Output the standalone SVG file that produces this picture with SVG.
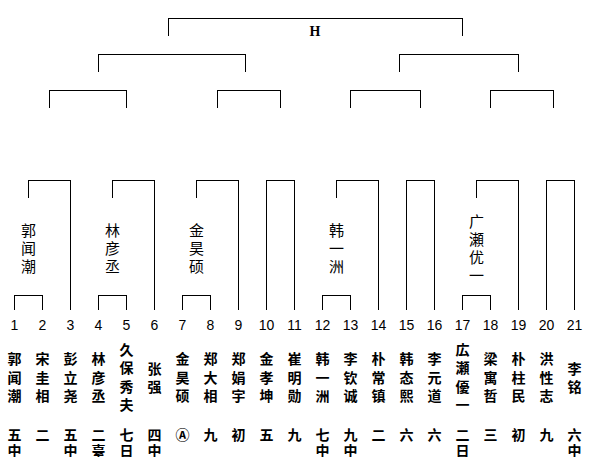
<svg xmlns="http://www.w3.org/2000/svg" width="589" height="457" viewBox="0 0 589 457">
<style>
.ln{fill:none;stroke:#000;stroke-width:1;shape-rendering:crispEdges}
.num{font-family:"Liberation Sans","DejaVu Sans",sans-serif;font-size:14px;fill:#000;text-anchor:middle}
.lab{font-family:"Noto Sans CJK SC","Noto Sans CJK JP",sans-serif;font-size:15px;fill:#000;text-anchor:middle;dominant-baseline:central}
.nm{font-family:"Noto Sans CJK SC","Noto Sans CJK JP",sans-serif;font-size:14px;font-weight:bold;fill:#000;text-anchor:middle;dominant-baseline:central}
.jp{font-family:"Noto Sans CJK JP","Noto Sans CJK SC",sans-serif}
.h{font-family:"Liberation Serif",serif;font-size:14px;font-weight:bold;fill:#000;text-anchor:middle}
</style>
<rect width="589" height="457" fill="#fff"/>
<g id="connectors">
<path class="ln" d="M168.5,36 V18.5 H462.5 V36"/>
<path class="ln" d="M98.5,72 V54.5 H245.5 V72"/>
<path class="ln" d="M399.5,72 V54.5 H518.5 V72"/>
<path class="ln" d="M49.5,108 V90.5 H126.5 V108"/>
<path class="ln" d="M217.5,108 V90.5 H280.5 V108"/>
<path class="ln" d="M350.5,108 V90.5 H420.5 V108"/>
<path class="ln" d="M490.5,108 V90.5 H553.5 V108"/>
<path class="ln" d="M28.5,198 V180.5 H70.5 V310"/>
<path class="ln" d="M112.5,198 V180.5 H154.5 V310"/>
<path class="ln" d="M196.5,198 V180.5 H238.5 V310"/>
<path class="ln" d="M266.5,310 V180.5 H294.5 V310"/>
<path class="ln" d="M336.5,198 V180.5 H378.5 V310"/>
<path class="ln" d="M406.5,310 V180.5 H434.5 V310"/>
<path class="ln" d="M476.5,198 V180.5 H518.5 V310"/>
<path class="ln" d="M546.5,310 V180.5 H574.5 V310"/>
<path class="ln" d="M14.5,310 V295.5 H42.5 V310"/>
<path class="ln" d="M98.5,310 V295.5 H126.5 V310"/>
<path class="ln" d="M182.5,310 V295.5 H210.5 V310"/>
<path class="ln" d="M322.5,310 V295.5 H350.5 V310"/>
<path class="ln" d="M462.5,310 V295.5 H490.5 V310"/>
</g>
<g id="final"><text class="h" x="315" y="36">H</text></g>
<g id="winner-1-3"><text class="lab"><tspan x="28.5" y="228.7">郭</tspan><tspan x="28.5" y="247">闻</tspan><tspan x="28.5" y="265.3">潮</tspan></text></g>
<g id="winner-4-6"><text class="lab"><tspan x="112.5" y="228.7">林</tspan><tspan x="112.5" y="247">彦</tspan><tspan x="112.5" y="265.3">丞</tspan></text></g>
<g id="winner-7-9"><text class="lab"><tspan x="196.5" y="228.7">金</tspan><tspan x="196.5" y="247">昊</tspan><tspan x="196.5" y="265.3">硕</tspan></text></g>
<g id="winner-12-14"><text class="lab"><tspan x="336.5" y="228.7">韩</tspan><tspan x="336.5" y="247">一</tspan><tspan x="336.5" y="265.3">洲</tspan></text></g>
<g id="winner-17-19"><text class="lab"><tspan x="476.5" y="219.5">广</tspan><tspan x="476.5" y="238">瀬</tspan><tspan x="476.5" y="256">优</tspan><tspan x="476.5" y="273.5">一</tspan></text></g>
<g id="numbers">
<text class="num" x="14.5" y="329.5">1</text><text class="num" x="42.5" y="329.5">2</text><text class="num" x="70.5" y="329.5">3</text><text class="num" x="98.5" y="329.5">4</text><text class="num" x="126.5" y="329.5">5</text><text class="num" x="154.5" y="329.5">6</text><text class="num" x="182.5" y="329.5">7</text><text class="num" x="210.5" y="329.5">8</text><text class="num" x="238.5" y="329.5">9</text><text class="num" x="266.5" y="329.5">10</text><text class="num" x="294.5" y="329.5">11</text><text class="num" x="322.5" y="329.5">12</text><text class="num" x="350.5" y="329.5">13</text><text class="num" x="378.5" y="329.5">14</text><text class="num" x="406.5" y="329.5">15</text><text class="num" x="434.5" y="329.5">16</text><text class="num" x="462.5" y="329.5">17</text><text class="num" x="490.5" y="329.5">18</text><text class="num" x="518.5" y="329.5">19</text><text class="num" x="546.5" y="329.5">20</text><text class="num" x="574.5" y="329.5">21</text>
</g>
<g id="p1"><text class="nm"><tspan x="14.5" y="358">郭</tspan><tspan x="14.5" y="376.5">闻</tspan><tspan x="14.5" y="395">潮</tspan><tspan x="14.5" y="434">五</tspan><tspan x="14.5" y="449.5">中</tspan></text></g>
<g id="p2"><text class="nm"><tspan x="42.5" y="358">宋</tspan><tspan x="42.5" y="376.5">圭</tspan><tspan x="42.5" y="395">相</tspan><tspan x="42.5" y="434">二</tspan></text></g>
<g id="p3"><text class="nm"><tspan x="70.5" y="358">彭</tspan><tspan x="70.5" y="376.5">立</tspan><tspan x="70.5" y="395">尧</tspan><tspan x="70.5" y="434">五</tspan><tspan x="70.5" y="449.5">中</tspan></text></g>
<g id="p4"><text class="nm"><tspan x="98.5" y="358">林</tspan><tspan x="98.5" y="376.5">彦</tspan><tspan x="98.5" y="395">丞</tspan><tspan x="98.5" y="434">二</tspan><tspan x="98.5" y="449.5">臺</tspan></text></g>
<g id="p5"><text class="nm jp"><tspan x="126.5" y="348.5">久</tspan><tspan x="126.5" y="367">保</tspan><tspan x="126.5" y="385.5">秀</tspan><tspan x="126.5" y="404">夫</tspan><tspan x="126.5" y="434">七</tspan><tspan x="126.5" y="449.5">日</tspan></text></g>
<g id="p6"><text class="nm"><tspan x="154.5" y="368">张</tspan><tspan x="154.5" y="386">强</tspan><tspan x="154.5" y="434">四</tspan><tspan x="154.5" y="449.5">中</tspan></text></g>
<g id="p7"><text class="nm"><tspan x="182.5" y="358">金</tspan><tspan x="182.5" y="376.5">昊</tspan><tspan x="182.5" y="395">硕</tspan><tspan x="182.5" y="434">Ⓐ</tspan></text></g>
<g id="p8"><text class="nm"><tspan x="210.5" y="358">郑</tspan><tspan x="210.5" y="376.5">大</tspan><tspan x="210.5" y="395">相</tspan><tspan x="210.5" y="434">九</tspan></text></g>
<g id="p9"><text class="nm"><tspan x="238.5" y="358">郑</tspan><tspan x="238.5" y="376.5">娟</tspan><tspan x="238.5" y="395">宇</tspan><tspan x="238.5" y="434">初</tspan></text></g>
<g id="p10"><text class="nm"><tspan x="266.5" y="358">金</tspan><tspan x="266.5" y="376.5">孝</tspan><tspan x="266.5" y="395">坤</tspan><tspan x="266.5" y="434">五</tspan></text></g>
<g id="p11"><text class="nm"><tspan x="294.5" y="358">崔</tspan><tspan x="294.5" y="376.5">明</tspan><tspan x="294.5" y="395">勋</tspan><tspan x="294.5" y="434">九</tspan></text></g>
<g id="p12"><text class="nm"><tspan x="322.5" y="358">韩</tspan><tspan x="322.5" y="376.5">一</tspan><tspan x="322.5" y="395">洲</tspan><tspan x="322.5" y="434">七</tspan><tspan x="322.5" y="449.5">中</tspan></text></g>
<g id="p13"><text class="nm"><tspan x="350.5" y="358">李</tspan><tspan x="350.5" y="376.5">钦</tspan><tspan x="350.5" y="395">诚</tspan><tspan x="350.5" y="434">九</tspan><tspan x="350.5" y="449.5">中</tspan></text></g>
<g id="p14"><text class="nm"><tspan x="378.5" y="358">朴</tspan><tspan x="378.5" y="376.5">常</tspan><tspan x="378.5" y="395">镇</tspan><tspan x="378.5" y="434">二</tspan></text></g>
<g id="p15"><text class="nm"><tspan x="406.5" y="358">韩</tspan><tspan x="406.5" y="376.5">态</tspan><tspan x="406.5" y="395">熙</tspan><tspan x="406.5" y="434">六</tspan></text></g>
<g id="p16"><text class="nm"><tspan x="434.5" y="358">李</tspan><tspan x="434.5" y="376.5">元</tspan><tspan x="434.5" y="395">道</tspan><tspan x="434.5" y="434">六</tspan></text></g>
<g id="p17"><text class="nm jp"><tspan x="462.5" y="348.5">広</tspan><tspan x="462.5" y="367">瀬</tspan><tspan x="462.5" y="385.5">優</tspan><tspan x="462.5" y="404">一</tspan><tspan x="462.5" y="434">二</tspan><tspan x="462.5" y="449.5">日</tspan></text></g>
<g id="p18"><text class="nm"><tspan x="490.5" y="358">梁</tspan><tspan x="490.5" y="376.5">寓</tspan><tspan x="490.5" y="395">哲</tspan><tspan x="490.5" y="434">三</tspan></text></g>
<g id="p19"><text class="nm"><tspan x="518.5" y="358">朴</tspan><tspan x="518.5" y="376.5">柱</tspan><tspan x="518.5" y="395">民</tspan><tspan x="518.5" y="434">初</tspan></text></g>
<g id="p20"><text class="nm"><tspan x="546.5" y="358">洪</tspan><tspan x="546.5" y="376.5">性</tspan><tspan x="546.5" y="395">志</tspan><tspan x="546.5" y="434">九</tspan></text></g>
<g id="p21"><text class="nm"><tspan x="574.5" y="368">李</tspan><tspan x="574.5" y="386">铭</tspan><tspan x="574.5" y="434">六</tspan><tspan x="574.5" y="449.5">中</tspan></text></g>
</svg>
